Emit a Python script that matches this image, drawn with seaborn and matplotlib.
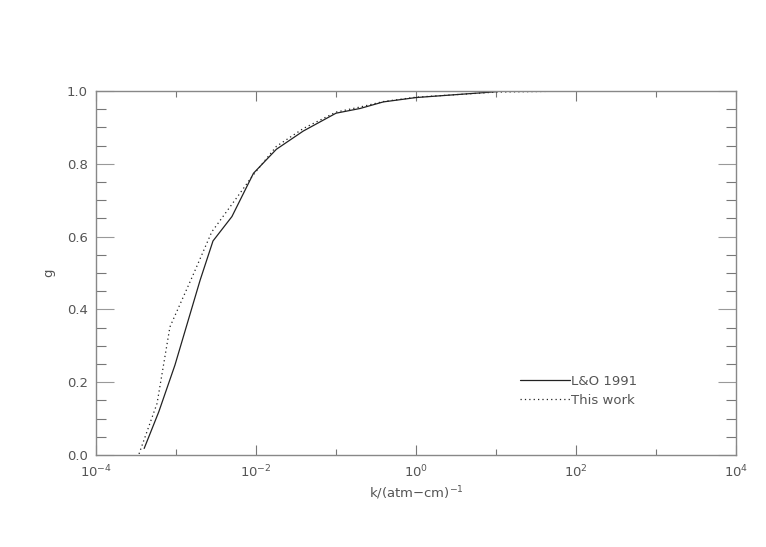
import matplotlib
matplotlib.use("Agg")
import matplotlib.pyplot as plt
import seaborn as sns
import pandas as pd
from matplotlib.ticker import MultipleLocator, FixedLocator, NullFormatter

# Data
k_lo = [4.0e-4, 6.1e-4, 9.7e-4, 2.0e-3, 2.9e-3, 5.0e-3, 9.3e-3, 1.8e-2, 3.9e-2, 0.10, 0.20, 0.39, 1.0, 10.0]
g_lo = [0.018, 0.119, 0.247, 0.48, 0.588, 0.655, 0.774, 0.84, 0.89, 0.939, 0.952, 0.97, 0.982, 0.998]

k_tw = [3.45e-4, 5.8e-4, 8.4e-4, 1.6e-3, 2.8e-3, 6.3e-3, 8.9e-3, 1.8e-2, 3.9e-2, 0.10, 0.20, 0.39, 1.0, 10.0, 100.0, 270.0]
g_tw = [0.003, 0.142, 0.352, 0.49, 0.613, 0.719, 0.765, 0.848, 0.897, 0.942, 0.956, 0.971, 0.983, 0.997, 1.0, 1.0]

series_names = ["L&O 1991", "This work"]

df = pd.concat([
    pd.DataFrame({"k": k_lo, "g": g_lo, "series": series_names[0]}),
    pd.DataFrame({"k": k_tw, "g": g_tw, "series": series_names[1]}),
], ignore_index=True)

sns.set_style("white")
plt.rcParams['font.family'] = ['DejaVu Sans']

tc = "#555555"
fig = plt.figure(figsize=(7.66, 5.47), dpi=100)
ax = fig.add_axes([96/766, (547-455)/547, (736-96)/766, (455-91)/547])

sns.lineplot(data=df, x="k", y="g", hue="series", style="series",
             palette={series_names[0]: "#222222", series_names[1]: "#222222"},
             dashes={series_names[0]: "", series_names[1]: (1, 2.5)},
             linewidth=0.9, ax=ax, sort=False, estimator=None)

ax.set_xscale("log")
ax.set_xlim(1e-4, 1e4)
ax.set_ylim(0, 1.0)

ax.xaxis.set_major_locator(FixedLocator([1e-4, 1e-2, 1e0, 1e2, 1e4]))
ax.xaxis.set_minor_locator(FixedLocator([1e-3, 1e-1, 1e1, 1e3]))
ax.xaxis.set_minor_formatter(NullFormatter())
ax.set_xticklabels([r"$10^{-4}$", r"$10^{-2}$", r"$10^{0}$", r"$10^{2}$", r"$10^{4}$"])
ax.yaxis.set_major_locator(MultipleLocator(0.2))
ax.yaxis.set_minor_locator(MultipleLocator(0.05))
ax.yaxis.set_major_formatter(matplotlib.ticker.FormatStrFormatter("%.1f"))

for s in ax.spines.values():
    s.set_color("#888888")
    s.set_linewidth(1.0)

ax.tick_params(axis="x", which="major", direction="in", length=7, width=0.8, color="#777777",
               top=True, bottom=True, labelsize=9.5, labelcolor=tc, pad=6)
ax.tick_params(axis="x", which="minor", direction="in", length=4, width=0.8, color="#777777",
               top=True, bottom=True)
ax.tick_params(axis="y", which="major", direction="in", length=13, width=0.8, color="#999999",
               left=True, right=True, labelsize=9.5, labelcolor=tc, pad=6)
ax.tick_params(axis="y", which="minor", direction="in", length=7, width=0.8, color="#777777",
               left=True, right=True)

ax.set_xlabel(r"k/(atm$-$cm)$^{-1}$", fontsize=9.5, color=tc, labelpad=3)
ax.set_ylabel("g", fontsize=9.5, color=tc, labelpad=8)

leg = ax.legend(loc="upper left", bbox_to_anchor=(0.662, 0.22), frameon=False,
                fontsize=9.5, handlelength=3.8, handletextpad=0.1, labelspacing=0.45,
                borderaxespad=0, borderpad=0)
for t in leg.get_texts():
    t.set_color(tc)

fig.savefig("out.png", dpi=100)
